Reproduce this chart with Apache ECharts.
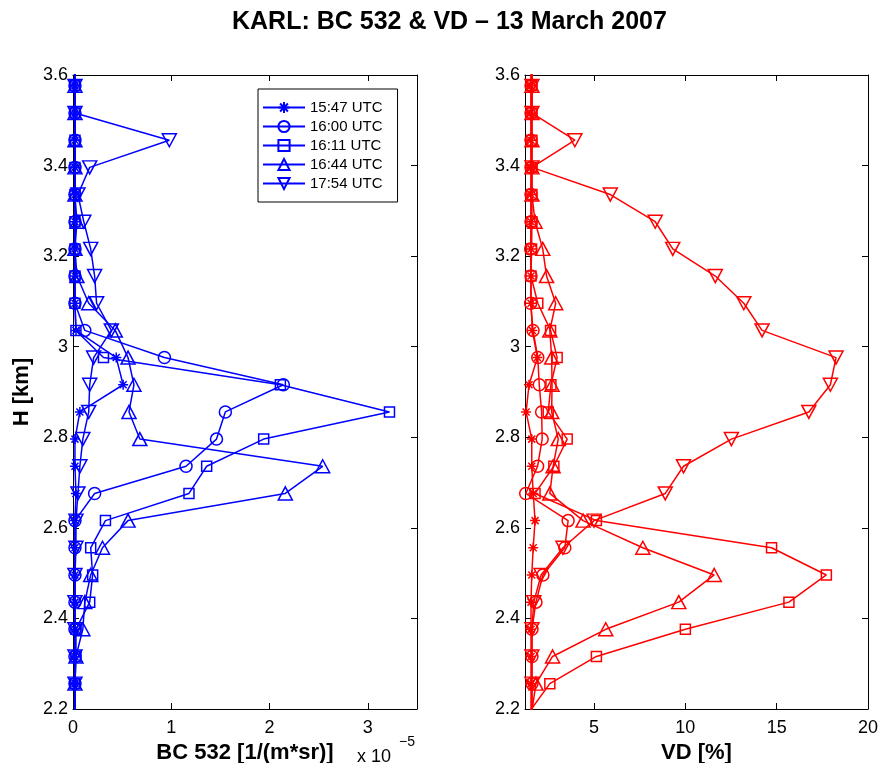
<!DOCTYPE html>
<html>
<head>
<meta charset="utf-8">
<title>KARL: BC 532 &amp; VD</title>
<script src="https://cdn.jsdelivr.net/npm/echarts@6/dist/echarts.min.js"></script>
<style>
  html, body { margin: 0; padding: 0; background: #fff; }
  #chart { width: 878px; height: 763px; }
</style>
</head>
<body>
<div id="chart"></div>
<script>
// lidar height bins [km], top bin and bottom bin are outside the plotted range
var heights = [3.636, 3.576, 3.516, 3.456, 3.396, 3.336, 3.276, 3.216, 3.156, 3.096, 3.036, 2.976,
               2.916, 2.856, 2.796, 2.736, 2.676, 2.616, 2.556, 2.496, 2.436, 2.376, 2.316, 2.256, 2.196];

var timeNames = ['15:47 UTC', '16:00 UTC', '16:11 UTC', '16:44 UTC', '17:54 UTC'];

// BC 532, in units of 1e-5 1/(m*sr)
var bc1547 = [0.02, 0.02, 0.02, 0.02, 0.02, 0.02, 0.02, 0.02, 0.02, 0.02, 0.03, 0.44,
              0.51, 0.07, 0.02, 0.02, 0.03, 0.02, 0.02, 0.02, 0.02, 0.02, 0.02, 0.02, 0.02];
var bc1600 = [0.02, 0.02, 0.02, 0.02, 0.02, 0.02, 0.02, 0.02, 0.02, 0.02, 0.12, 0.93,
              2.14, 1.55, 1.46, 1.15, 0.22, 0.02, 0.02, 0.02, 0.02, 0.02, 0.02, 0.02, 0.02];
var bc1611 = [0.02, 0.02, 0.02, 0.02, 0.02, 0.02, 0.02, 0.02, 0.02, 0.02, 0.03, 0.31,
              2.11, 3.22, 1.94, 1.36, 1.18, 0.33, 0.18, 0.20, 0.17, 0.03, 0.03, 0.02, 0.02];
var bc1644 = [0.02, 0.02, 0.02, 0.02, 0.02, 0.02, 0.04, 0.02, 0.04, 0.16, 0.43, 0.56,
              0.62, 0.57, 0.68, 2.54, 2.16, 0.56, 0.30, 0.18, 0.12, 0.10, 0.03, 0.02, 0.02];
var bc1754 = [0.02, 0.02, 0.02, 0.98, 0.17, 0.05, 0.11, 0.18, 0.22, 0.24, 0.39, 0.21,
              0.17, 0.16, 0.10, 0.07, 0.05, 0.03, 0.03, 0.02, 0.02, 0.02, 0.02, 0.02, 0.02];

// VD [%]
var vd1547 = [1.55, 1.55, 1.55, 1.55, 1.55, 1.55, 1.55, 1.55, 1.55, 1.55, 1.62, 1.90,
              1.44, 1.28, 1.59, 1.59, 1.67, 1.77, 1.67, 1.59, 1.55, 1.55, 1.55, 1.55, 1.55];
var vd1600 = [1.55, 1.55, 1.55, 1.55, 1.55, 1.55, 1.55, 1.53, 1.55, 1.53, 1.66, 1.92,
              2.00, 2.13, 2.16, 1.91, 1.26, 3.58, 3.40, 2.20, 1.82, 1.60, 1.60, 1.60, 1.60];
var vd1611 = [1.60, 1.60, 1.60, 1.60, 1.60, 1.60, 1.60, 1.58, 1.55, 1.92, 2.62, 2.98,
              2.64, 2.49, 3.53, 2.80, 1.77, 5.13, 14.72, 17.72, 15.67, 10.00, 5.13, 2.58, 1.50];
var vd1644 = [1.60, 1.60, 1.60, 1.60, 1.60, 1.60, 1.77, 2.19, 2.40, 2.90, 2.58, 2.68,
              2.70, 2.68, 3.04, 2.76, 2.58, 4.40, 7.67, 11.58, 9.64, 5.64, 2.73, 1.82, 1.60];
var vd1754 = [1.60, 1.60, 1.60, 3.95, 1.60, 5.89, 8.35, 9.31, 11.64, 13.20, 14.20, 18.25,
              17.94, 16.76, 12.52, 9.90, 8.90, 5.00, 3.30, 2.10, 1.70, 1.60, 1.60, 1.60, 1.60];

// tick labels
var hTicks = [2.2, 2.4, 2.6, 2.8, 3, 3.2, 3.4, 3.6];
var bcTicks = [0, 1, 2, 3];
var vdTicks = [5, 10, 15, 20];

var FONT = '"Liberation Sans", Arial, Helvetica, sans-serif';

// matlab-like markers: *, o, square, ^, v
var symbols = [
    'path://M0,-10L0,10M-10,0L10,0M-7,-7L7,7M-7,7L7,-7',
    'circle',
    'rect',
    'triangle',
    'path://M-10,-9L10,-9L0,9Z'
];
var symbolSizes = [10, 12, 10, [14, 13], [14, 13]];

function makeSeries(name, vals, gi, color, k) {
    return {
        name: name,
        type: 'line',
        xAxisIndex: gi * 2,
        yAxisIndex: gi * 2,
        data: heights.map(function (h, i) { return [vals[i], h]; }),
        symbol: symbols[k],
        symbolSize: symbolSizes[k],
        showAllSymbol: true,
        lineStyle: { color: color, width: 1.5 },
        itemStyle: { color: 'rgba(0,0,0,0)', borderColor: color, borderWidth: 1.5 },
        emphasis: { disabled: true }
    };
}

// bottom / top x axis of one panel (box on, ticks inside)
function xAx(gi, min, max, ticks, isTop, name) {
    return {
        gridIndex: gi,
        type: 'value',
        position: isTop ? 'top' : 'bottom',
        min: min,
        max: max,
        axisLine: { onZero: false, lineStyle: { color: '#000', width: 1 } },
        axisTick: { inside: true, length: 6, customValues: ticks, lineStyle: { color: '#000' } },
        axisLabel: { show: !isTop, customValues: ticks, color: '#000', fontSize: 18, margin: 10, fontFamily: FONT },
        splitLine: { show: false },
        name: isTop ? '' : name,
        nameLocation: 'middle',
        nameGap: 29,
        nameTextStyle: { color: '#000', fontSize: 22, fontWeight: 'bold', fontFamily: FONT }
    };
}

function yAx(gi, isRight, name) {
    return {
        gridIndex: gi,
        type: 'value',
        position: isRight ? 'right' : 'left',
        min: 2.2,
        max: 3.6,
        axisLine: { onZero: false, lineStyle: { color: '#000', width: 1 } },
        axisTick: { inside: true, length: 6, customValues: hTicks, lineStyle: { color: '#000' } },
        axisLabel: { show: !isRight, customValues: hTicks, color: '#000', fontSize: 18, margin: 5, fontFamily: FONT },
        splitLine: { show: false },
        name: name || '',
        nameLocation: 'middle',
        nameRotate: 90,
        nameGap: 40,
        nameTextStyle: { color: '#000', fontSize: 22, fontWeight: 'bold', fontFamily: FONT }
    };
}

var chart = echarts.init(document.getElementById('chart'));

var bcSets = [bc1547, bc1600, bc1611, bc1644, bc1754];
var vdSets = [vd1547, vd1600, vd1611, vd1644, vd1754];
var series = [];
for (var k = 0; k < timeNames.length; k++) {
    series.push(makeSeries(timeNames[k], bcSets[k], 0, '#0000ff', k));
}
for (var k2 = 0; k2 < timeNames.length; k2++) {
    series.push(makeSeries(timeNames[k2], vdSets[k2], 1, '#ff0000', k2));
}

chart.setOption({
    animation: false,
    backgroundColor: '#fff',
    title: {
        text: 'KARL: BC 532 & VD \u2013 13 March 2007',
        left: 232,
        top: 10,
        padding: 0,
        textStyle: { color: '#000', fontSize: 25, fontWeight: 'bold', fontFamily: FONT }
    },
    legend: {
        data: timeNames,
        orient: 'vertical',
        left: 258,
        top: 89,
        padding: [11, 15, 11, 4],
        itemWidth: 42,
        itemHeight: 14,
        itemGap: 4,
        borderColor: '#000',
        borderWidth: 1,
        backgroundColor: '#fff',
        selectedMode: false,
        textStyle: { color: '#000', fontSize: 15, fontFamily: FONT }
    },
    // fixed plot boxes, labels may hang out of them
    grid: [
        { left: 73, top: 75, width: 344, height: 634, outerBoundsMode: 'none', containLabel: false },
        { left: 525, top: 75, width: 343, height: 634, outerBoundsMode: 'none', containLabel: false }
    ],
    xAxis: [
        xAx(0, 0, 3.5, bcTicks, false, 'BC 532 [1/(m*sr)]'),
        xAx(0, 0, 3.5, bcTicks, true),
        xAx(1, 1.22, 20, vdTicks, false, 'VD [%]'),
        xAx(1, 1.22, 20, vdTicks, true)
    ],
    yAxis: [
        yAx(0, false, 'H [km]'),
        yAx(0, true),
        yAx(1, false),
        yAx(1, true)
    ],
    // scale factor of the BC axis, as matlab puts it under the axis end
    graphic: [
        { type: 'text', left: 357, top: 748, style: { text: 'x 10', fill: '#000', fontSize: 18, fontFamily: FONT } },
        { type: 'text', left: 399, top: 735, style: { text: '\u22125', fill: '#000', fontSize: 14, fontFamily: FONT } }
    ],
    series: series
});
</script>
</body>
</html>
